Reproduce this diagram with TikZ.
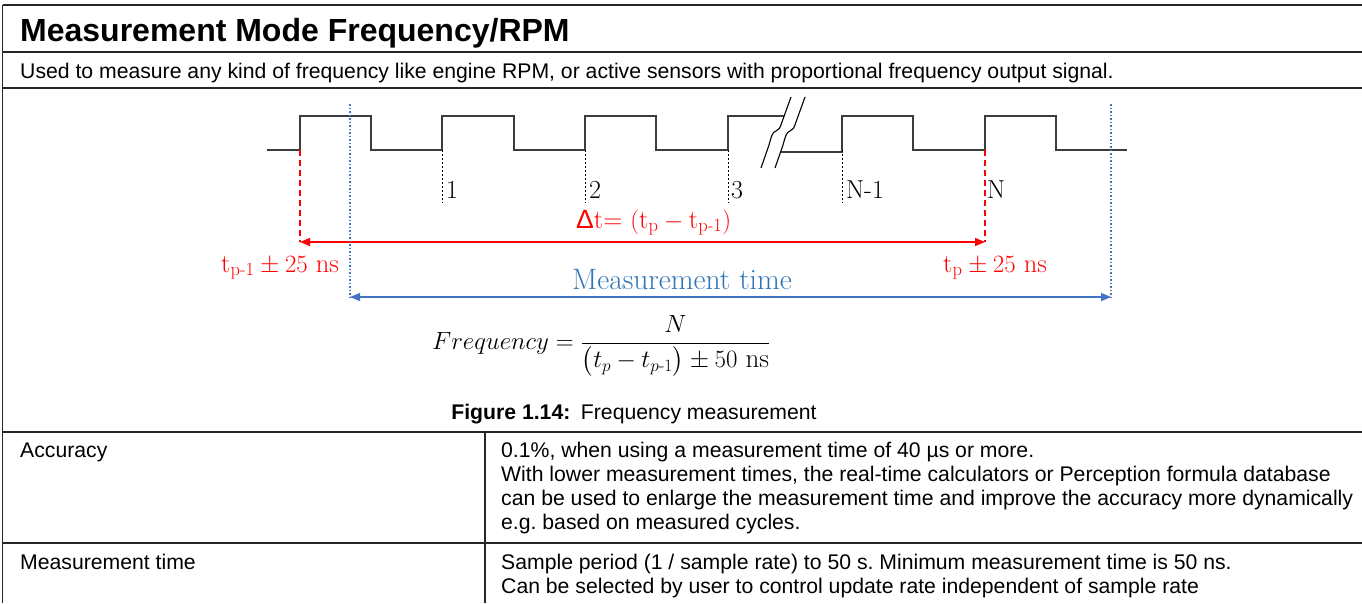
\documentclass[tikz,border=0pt]{standalone}
\usepackage{amsmath}
\usepackage{fontspec}
\newfontfamily\arial{Liberation Sans}
\usetikzlibrary{arrows.meta}
\definecolor{wavegray}{RGB}{60,60,60}
\definecolor{mblue}{RGB}{68,114,196}
\definecolor{mtext}{RGB}{46,117,182}
\definecolor{mred}{RGB}{255,0,0}
\frenchspacing
\begin{document}
\begin{tikzpicture}[x=1pt,y=-1pt,
  frame/.style={line width=1.3pt, black!85},
  wave/.style={line width=1.6pt, wavegray, line join=miter},
  brk/.style={line width=1.1pt, black},
  tick/.style={line width=0.8pt, black, dash pattern=on 2pt off 2pt},
  reddash/.style={line width=1.2pt, mred, dash pattern=on 6pt off 4pt},
  bluedot/.style={line width=1.4pt, mblue, dash pattern=on 1.5pt off 2pt},
  redarrow/.style={line width=1.2pt, mred, {Triangle[length=10pt,width=8pt]}-{Triangle[length=10pt,width=8pt]}},
  bluearrow/.style={line width=1.2pt, mblue, {Triangle[length=10pt,width=8pt]}-{Triangle[length=10pt,width=8pt]}},
  sans/.style={font=\arial\fontsize{21.2}{24}\selectfont, inner sep=0pt, anchor=base west},
  lbl/.style={font=\fontsize{26}{30}\selectfont, inner sep=0pt, anchor=base west},
  redlbl/.style={font=\fontsize{26.5}{30}\selectfont, text=mred, inner sep=0pt, anchor=base west},
]
\useasboundingbox (0,0) rectangle (1362,603);
\fill[white] (0,0) rectangle (1362,603);

% table frame
\draw[frame] (2.5,5) -- (1362,5);
\draw[frame] (2.5,52) -- (1362,52);
\draw[frame] (2.5,88) -- (1362,88);
\draw[frame] (2.5,432) -- (1362,432);
\draw[frame] (2.5,543) -- (1362,543);
\draw[frame] (2.5,5) -- (2.5,603);
\draw[frame] (485,432) -- (485,603);

% heading rows
\node[font=\arial\bfseries\fontsize{32}{36}\selectfont, inner sep=0pt, anchor=base west] (title) at (20,41) {Measurement Mode Frequency/RPM};
\node[sans] (sub) at (20,78) {Used to measure any kind of frequency like engine RPM, or active sensors with proportional frequency output signal.};

% pulse train
\draw[wave] (267,150) -- (300,150) -- (300,116) -- (371,116) -- (371,150) -- (442,150) -- (442,116) -- (514,116) -- (514,150)
  -- (585,150) -- (585,116) -- (656,116) -- (656,150) -- (728,150) -- (728,116) -- (784,116);
\draw[wave] (781,152) -- (842,152) -- (842,116) -- (913,116) -- (913,150) -- (985,150) -- (985,116) -- (1056,116) -- (1056,150) -- (1127,150);

% break marks
\foreach \dx in {0,14}{
  \draw[brk, xshift=\dx pt] (761,168) -- (769,145) .. controls (771,138) and (772,132) .. (776,131)
    .. controls (779,130) and (780,128) .. (782,122) -- (791,97);
}

% pulse counters
\foreach \x in {442,585,728,842}{
  \draw[tick] (\x,150) -- (\x,203);
}
\node[lbl] (c1) at (446,198) {1};
\node[lbl] (c2) at (589,198) {2};
\node[lbl] (c3) at (731,198) {3};
\node[lbl] (cn1) at (846,198) {N-1};
\node[lbl] (cn) at (987,198) {N};

% period markers
\coordinate (tpmtop) at (300,150);
\coordinate (tptop) at (985,150);
\coordinate (tpm) at (300,242);
\coordinate (tp) at (985,242);
\draw[reddash] (tpmtop) -- (tpm);
\draw[reddash] (tptop) -- (tp);
\draw[redarrow] (tpm) -- (tp);
\node[redlbl] (dt) at (576,228) {{\arial Δ}t= $(\mathrm{t}_{\mathrm{p}}-\mathrm{t}_{\text{p-1}})$};
\node[redlbl] (lerr) at (221,272) {$\mathrm{t}_{\text{p-1}}\pm 25\ \mathrm{ns}$};
\node[redlbl] (rerr) at (943,272) {$\mathrm{t}_{\mathrm{p}}\pm 25\ \mathrm{ns}$};

% measurement window
\coordinate (mstop) at (350,104);
\coordinate (metop) at (1111,104);
\coordinate (ms) at (350,297);
\coordinate (me) at (1111,297);
\draw[bluedot] (mstop) -- (ms);
\draw[bluedot] (metop) -- (me);
\draw[bluearrow] (ms) -- (me);
\node[font=\fontsize{29.5}{32}\selectfont, text=mtext, inner sep=0pt, anchor=base west] (mt) at (572,289) {Measurement time};

% formula
\node[font=\fontsize{27}{30}\selectfont, inner sep=0pt, anchor=west] (formula) at (432,346)
  {$Frequency=\dfrac{N}{\bigl(t_{p}-t_{p\text{-}1}\bigr)\pm 50\ \mathrm{ns}}$};

% caption
\node[font=\arial\fontsize{21.2}{24}\selectfont, inner sep=0pt, anchor=base] (cap) at (634,419)
  {\textbf{Figure 1.14:}\hspace{0.5em}Frequency measurement};

% specification rows
\node[sans] (acc) at (20,457) {Accuracy};
\node[sans] (acc1) at (501,457) {0.1\%, when using a measurement time of 40 µs or more.};
\node[sans] (acc2) at (501,481) {With lower measurement times, the real-time calculators or Perception formula database};
\node[sans] (acc3) at (501,505) {can be used to enlarge the measurement time and improve the accuracy more dynamically};
\node[sans] (acc4) at (501,529) {e.g. based on measured cycles.};
\node[sans] (mtl) at (20,569) {Measurement time};
\node[sans] (mt1) at (501,569) {Sample period (1 / sample rate) to 50 s. Minimum measurement time is 50 ns.};
\node[sans] (mt2) at (501,593) {Can be selected by user to control update rate independent of sample rate};
\end{tikzpicture}
\end{document}
